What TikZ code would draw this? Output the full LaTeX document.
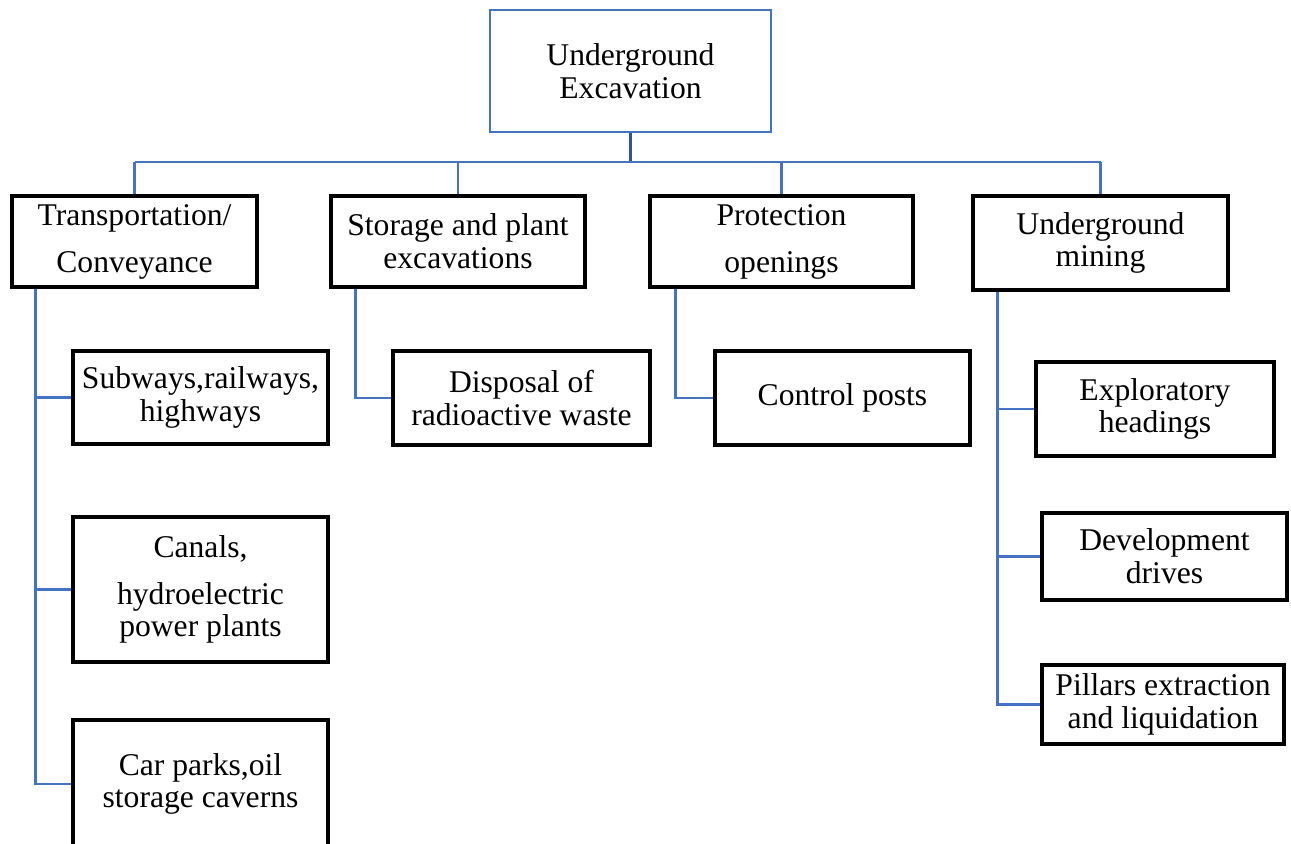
\documentclass[tikz,border=0pt]{standalone}
\usepackage{fontspec}
\setmainfont{Liberation Serif}
\definecolor{linkblue}{HTML}{4472C4}
\definecolor{stemblue}{HTML}{2F5597}
\begin{document}
\begin{tikzpicture}[x=0.02cm,y=-0.02cm,
  box/.style={draw=black,line width=1.8pt,fill=white,inner sep=0pt,align=center,
    font=\fontsize{18}{18.7}\selectfont},
  rootbox/.style={box,draw=linkblue,line width=1.6pt},
  link/.style={draw=linkblue,line width=1.4pt}]
\useasboundingbox (0,0) rectangle (1291,844);

% root
\node[rootbox,minimum width=5.62cm,minimum height=2.44cm] (root) at (630.5,71) {Underground\\Excavation};

% first level
\node[box,minimum width=4.9cm,minimum height=1.82cm] (trans) at (134.5,241.5) {Transportation/\\[8pt]Conveyance};
\node[box,minimum width=5.08cm,minimum height=1.82cm] (stor) at (458,241.5) {Storage and plant\\excavations};
\node[box,minimum width=5.26cm,minimum height=1.82cm] (prot) at (781.5,241.5) {Protection\\[8pt]openings};
\node[box,minimum width=5.1cm,minimum height=1.88cm] (mine) at (1100.5,243) {Underground\\mining};

% second level
\node[box,minimum width=5.1cm,minimum height=1.86cm] (subw) at (200.5,397.5) {Subways,railways,\\highways};
\node[box,minimum width=5.1cm,minimum height=2.9cm] (canal) at (200.5,589.5) {Canals,\\[8pt]hydroelectric\\power plants};
\node[box,minimum width=5.1cm,minimum height=2.56cm] (cars) at (200.5,784) {Car parks,oil\\storage caverns};
\node[box,minimum width=5.14cm,minimum height=1.88cm] (disp) at (521.5,398) {Disposal of\\radioactive waste};
\node[box,minimum width=5.1cm,minimum height=1.88cm] (ctrl) at (842.5,398) {Control posts};
\node[box,minimum width=4.76cm,minimum height=1.88cm] (expl) at (1155,409) {Exploratory\\headings};
\node[box,minimum width=4.9cm,minimum height=1.74cm] (devel) at (1164.5,556.5) {Development\\drives};
\node[box,minimum width=4.84cm,minimum height=1.58cm] (pill) at (1163,704.5) {Pillars extraction\\and liquidation};

% bus below the root
\coordinate (bus) at (0,162);
\draw[draw=stemblue,line width=2pt] (root.south) -- (root.south |- bus);
\draw[link] (trans.north |- bus) -- (mine.north |- bus);
\foreach \n in {trans,stor,prot,mine}
  \draw[link] (\n.north |- bus) -- (\n.north);

% branch spines
\draw[link] ([xshift=0.5cm]trans.south west) |- (subw.west);
\draw[link] ([xshift=0.5cm]trans.south west) |- (canal.west);
\draw[link] ([xshift=0.5cm]trans.south west) |- (cars.west);
\draw[link] ([xshift=0.52cm]stor.south west) |- (disp.west);
\draw[link] ([xshift=0.54cm]prot.south west) |- (ctrl.west);
\draw[link] ([xshift=0.52cm]mine.south west) |- (expl.west);
\draw[link] ([xshift=0.52cm]mine.south west) |- (devel.west);
\draw[link] ([xshift=0.52cm]mine.south west) |- (pill.west);
\end{tikzpicture}
\end{document}
